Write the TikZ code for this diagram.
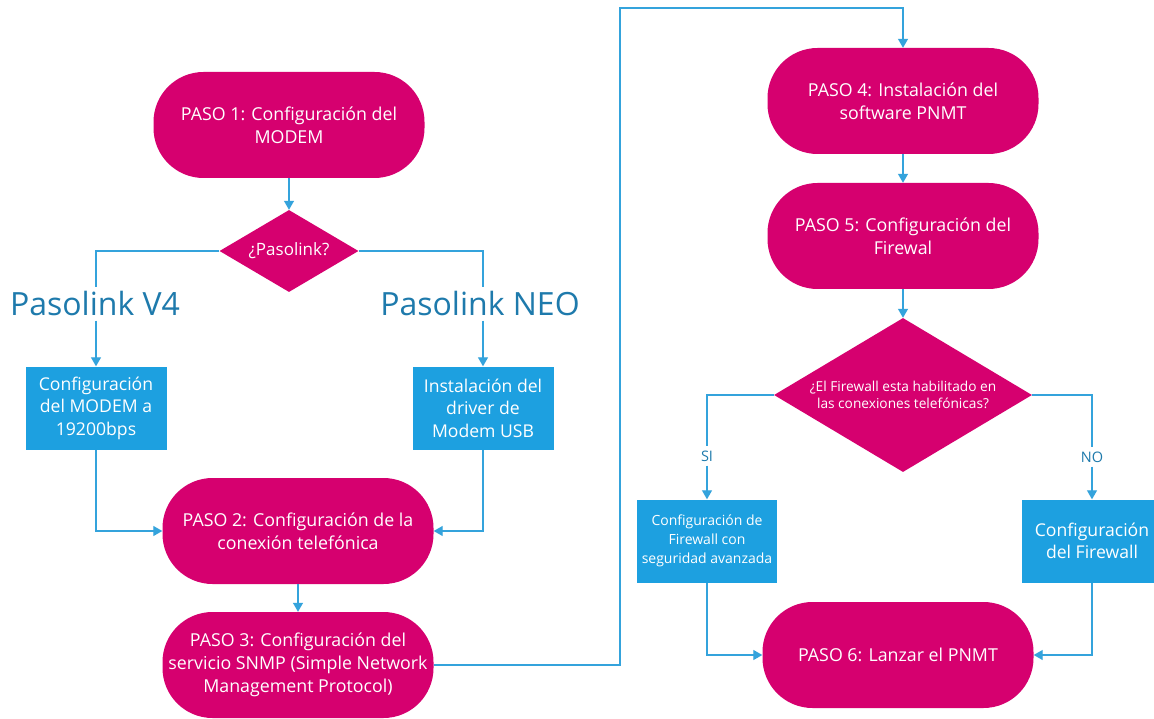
\documentclass[tikz,border=0pt]{standalone}
\usepackage{fontspec}
\setmainfont{Open Sans}
\usetikzlibrary{shapes.geometric,arrows.meta}
\definecolor{mag}{RGB}{214,0,111}
\definecolor{boxblue}{RGB}{29,160,224}
\definecolor{linkblue}{RGB}{52,163,220}
\definecolor{lblblue}{RGB}{30,122,172}
\begin{document}
\begin{tikzpicture}[x=1pt,y=-1pt,
  stadium/.style={rectangle, rounded corners=50pt, fill=mag, text=white,
    minimum width=271pt, minimum height=106pt, align=center, inner sep=0pt,
    font=\fontsize{17.8}{23}\selectfont},
  bluebox/.style={rectangle, fill=boxblue, text=white, minimum width=141pt,
    minimum height=83pt, align=center, inner sep=0pt,
    font=\fontsize{17.6}{22.5}\selectfont},
  decision/.style={diamond, fill=mag, text=white, inner sep=0pt, align=center},
  biglbl/.style={text=lblblue, font=\fontsize{32}{36}\selectfont, inner sep=4pt},
  smlbl/.style={text=lblblue, font=\fontsize{14.5}{18}\selectfont, inner sep=4pt},
  conn/.style={draw=linkblue, line width=1.2pt},
  arr/.style={conn, -{Triangle[length=9pt,width=10pt]}}
]
\useasboundingbox[fill=white] (0,0) rectangle (1154,719);

% left column
\node[stadium] (p1) at (289,125) {PASO 1: Configuración del\\MODEM};
\node[decision, aspect=1.7, minimum width=139pt, minimum height=82pt,
      font=\fontsize{17}{20}\selectfont] (d1) at (289,251) {¿Pasolink?};
\node[biglbl] (lv4) at (95,304) {Pasolink V4};
\node[biglbl] (lneo) at (480,304) {Pasolink NEO};
\node[bluebox] (bv4) at (96,408) {Configuración\\del MODEM a\\19200bps};
\node[bluebox] (bneo) at (483,408) {Instalación del\\driver de\\Modem USB};
\node[stadium] (p2) at (298,531) {PASO 2: Configuración de la\\conexión telefónica};
\node[stadium] (p3) at (298,665) {PASO 3: Configuración del\\servicio SNMP (Simple Network\\Management Protocol)};

% right column
\coordinate (t1) at (620,8);
\node[stadium] (p4) at (903,101) {PASO 4: Instalación del\\software PNMT};
\node[stadium] (p5) at (903,236) {PASO 5: Configuración del\\Firewal};
\node[decision, aspect=1.675, minimum width=258pt, minimum height=154pt,
      font=\fontsize{13.7}{17.5}\selectfont] (d2) at (903,395)
      {¿El Firewall esta habilitado en\\las conexiones telefónicas?};
\node[smlbl] (lsi) at (707,456) {SI};
\node[smlbl] (lno) at (1092,457) {NO};
\node[bluebox, minimum width=140pt, font=\fontsize{14}{19}\selectfont] (bsi) at (707,541)
      {Configuración de\\Firewall con\\seguridad avanzada};
\node[bluebox] (bno) at (1092,541) {Configuración\\del Firewall};
\node[stadium] (p6) at (898,655) {PASO 6: Lanzar el PNMT};

% connectors
\draw[arr] (p1) -- (d1);
\draw[conn] (d1.west) -| (lv4.north -| bv4.north);
\draw[arr] (lv4.south -| bv4.north) -- (bv4.north);
\draw[conn] (d1.east) -| (lneo.north -| bneo.north);
\draw[arr] (lneo.south -| bneo.north) -- (bneo.north);
\draw[arr] (bv4.south) |- (p2.west);
\draw[arr] (bneo.south) |- (p2.east);
\draw[arr] (p2) -- (p3);
\draw[arr] (p3.east) -| (t1) -| (p4.north);
\draw[arr] (p4) -- (p5);
\draw[arr] (p5) -- (d2);
\draw[conn] (d2.west) -| (lsi.north -| bsi.north);
\draw[arr] (lsi.south -| bsi.north) -- (bsi.north);
\draw[conn] (d2.east) -| (lno.north -| bno.north);
\draw[arr] (lno.south -| bno.north) -- (bno.north);
\draw[arr] (bsi.south) |- (p6.west);
\draw[arr] (bno.south) |- (p6.east);
\end{tikzpicture}
\end{document}
